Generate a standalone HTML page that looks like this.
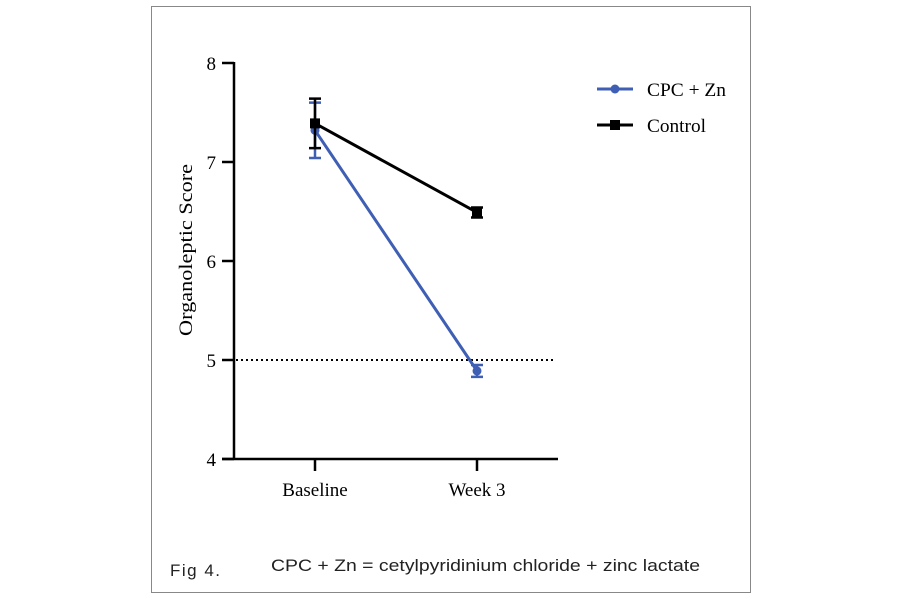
<!DOCTYPE html>
<html><head><meta charset="utf-8"><style>
body{margin:0;background:#fff;width:900px;height:600px;overflow:hidden}
svg text{font-family:"Liberation Serif",serif}
</style></head><body>
<svg width="900" height="600">
<rect x="151.5" y="6.5" width="599" height="586" fill="#fff" stroke="#888" stroke-width="1"/>
<g id="chart"></g>
<text x="170" y="576" style="font-family:'Liberation Sans',sans-serif" font-size="17" textLength="50" fill="#222">Fig 4.</text>
<text x="271" y="571" style="font-family:'Liberation Sans',sans-serif" font-size="17" textLength="429" lengthAdjust="spacingAndGlyphs" fill="#222">CPC + Zn = cetylpyridinium chloride + zinc lactate</text>
</svg>
<script>
const categories=["Baseline","Week 3"];
const cpcValues=[7.32,4.89];
const cpcErr=[0.28,0.06];
const controlValues=[7.39,6.49];
const controlErr=[0.25,0.05];
const yTicks=[4,5,6,7,8];
const refLine=5;
const NS="http://www.w3.org/2000/svg";
const g=document.getElementById('chart');
const y=v=>459-(v-4)*99;
const x=i=>315+i*162;
function el(t,a,parent){const e=document.createElementNS(NS,t);for(const k in a)e.setAttribute(k,a[k]);(parent||g).appendChild(e);return e;}
let e;
e=el('line',{x1:234,y1:62,x2:234,y2:460,stroke:'#000','stroke-width':2.5});


e=el('line',{x1:222,y1:459,x2:558,y2:459,stroke:'#000','stroke-width':2.5});


yTicks.forEach(v=>{
 let t=el('line',{x1:222,y1:y(v),x2:234,y2:y(v),stroke:'#000','stroke-width':2.5});
 
 
 let l=el('text',{x:216,y:y(v)+7,'text-anchor':'end','font-size':19});
 l.textContent=v;
 
 
});
categories.forEach((c,i)=>{
 let t=el('line',{x1:x(i),y1:459,x2:x(i),y2:471,stroke:'#000','stroke-width':2.5});
 
 
 let l=el('text',{x:x(i),y:496,'text-anchor':'middle','font-size':19});
 l.textContent=c;
 
 
});
e=el('line',{x1:236,y1:y(refLine),x2:554,y2:y(refLine),stroke:'#000','stroke-width':2,'stroke-dasharray':'2,3'});


let yt=el('text',{x:0,y:0,'text-anchor':'middle','font-size':19,textLength:172,lengthAdjust:'spacingAndGlyphs',transform:'translate(192,250) rotate(-90)'});
yt.textContent='Organoleptic Score';


function series(vals,errs,color,name,marker){
 let p=el('polyline',{points:vals.map((v,i)=>x(i)+','+y(v)).join(' '),fill:'none',stroke:color,'stroke-width':3});
 
 
 vals.forEach((v,i)=>{
  let a=el('path',{d:`M${x(i)},${y(v+errs[i])}V${y(v-errs[i])}M${x(i)-6},${y(v+errs[i])}H${x(i)+6}M${x(i)-6},${y(v-errs[i])}H${x(i)+6}`,stroke:color,'stroke-width':2.5,fill:'none'});
  
  
  let m=marker==='circle'?el('circle',{cx:x(i),cy:y(v),r:4.5,fill:color}):el('rect',{x:x(i)-5,y:y(v)-5,width:10,height:10,fill:color});
  
  
 });
}
series(cpcValues,cpcErr,'#3f5fb5','cpc-zn','circle');
series(controlValues,controlErr,'#000','control','square');
[['CPC + Zn','#3f5fb5','circle',89,79],['Control','#000','square',125,59]].forEach(([t,c,m,yy,w])=>{
 let lg=el('g',{});
 
 
 el('line',{x1:597,y1:yy,x2:633,y2:yy,stroke:c,'stroke-width':3},lg);
 if(m==='circle')el('circle',{cx:615,cy:yy,r:4.5,fill:c},lg);else el('rect',{x:610,y:yy-5,width:10,height:10,fill:c},lg);
 let tx=el('text',{x:647,y:yy+7,'font-size':19,textLength:w,lengthAdjust:'spacingAndGlyphs'},lg);tx.textContent=t;
});
</script>
</body></html>
